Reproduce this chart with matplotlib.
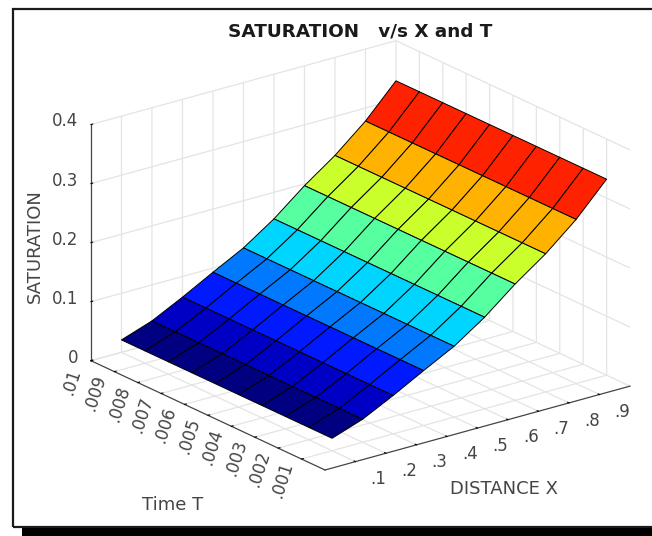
"""Saturation surface v/s distance X and time T, drawn with mplot3d."""
import matplotlib
matplotlib.use("Agg")
import matplotlib.pyplot as plt
from matplotlib.patches import Rectangle
from mpl_toolkits.mplot3d import proj3d
import numpy as np

# data
DISTANCE = [0.1, 0.2, 0.3, 0.4, 0.5, 0.6, 0.7, 0.8, 0.9, 1.0]
TIME = [0.001, 0.002, 0.003, 0.004, 0.005, 0.006, 0.007, 0.008, 0.009, 0.01]
SATURATION = [0.021, 0.039, 0.065, 0.093, 0.120, 0.155, 0.197, 0.234, 0.278, 0.332]

X_TICKS = [0.1, 0.2, 0.3, 0.4, 0.5, 0.6, 0.7, 0.8, 0.9]
X_LABELS = [".1", ".2", ".3", ".4", ".5", ".6", ".7", ".8", ".9"]
T_TICKS = [0.001, 0.002, 0.003, 0.004, 0.005, 0.006, 0.007, 0.008, 0.009, 0.01]
T_LABELS = [".001", ".002", ".003", ".004", ".005", ".006", ".007", ".008", ".009", ".01"]
Z_TICKS = [0, 0.1, 0.2, 0.3, 0.4]
Z_LABELS = ["0", "0.1", "0.2", "0.3", "0.4"]

W, H = 652, 536
INK = "#454545"
GRID = "#e4e4e4"
TICK_FS = 12
LABEL_FS = 13


def px(x, y):
    """Image pixel to figure fraction."""
    return x / W, 1 - y / H


def place_axes(ax, origin, x_end):
    """Move the square 3D axes so the floor corners land on the given pixels."""
    xs, ys, _ = proj3d.proj_transform([0, 1], [0, 0], [0, 0], ax.get_proj())
    scale = (x_end[0] - origin[0]) / (xs[1] - xs[0])
    box = ax.viewLim
    size = scale * box.width
    left = origin[0] - scale * (xs[0] - box.x0)
    bottom = (H - origin[1]) - scale * (ys[0] - box.y0)
    ax.set_position([left / W, bottom / H, size / W, size / H])


def tick_text(ax, x, y, z, s, **kw):
    """Text at a data point; Text3D would throw away the rotation."""
    xs, ys, _ = proj3d.proj_transform(x, y, z, ax.get_proj())
    ax.figure.text(xs, ys, s, transform=ax.transData, fontsize=TICK_FS, color=INK,
                   va="center", **kw)


fig = plt.figure(figsize=(W / 100, H / 100), dpi=100, facecolor="white")
ax = fig.add_axes([0.1, 0.1, 0.8, 0.8], projection="3d", proj_type="ortho",
                  facecolor="none")
ax.view_init(elev=21, azim=-127.5)
ax.set_box_aspect((1, 1, 0.658))

x, t = np.meshgrid(DISTANCE, TIME)
z = np.tile(SATURATION, (len(TIME), 1))
norm = plt.Normalize(min(SATURATION), 0.316)  # top band is never used for a face colour
ax.plot_surface(x, t, z, rstride=1, cstride=1, facecolors=plt.cm.jet(norm(z)),
                shade=False, edgecolor="black", linewidth=0.7, antialiased=True)

ax.set_xlim(0, 1)
ax.set_ylim(0, 0.01)
ax.set_zlim(0, 0.4)
ax.set_xticks(X_TICKS, [""] * len(X_TICKS))
ax.set_yticks(T_TICKS, [""] * len(T_TICKS))
ax.set_zticks(Z_TICKS, [""] * len(Z_TICKS))

for axis in (ax.xaxis, ax.yaxis, ax.zaxis):
    axis.set_pane_color((1, 1, 1, 1))
    axis.pane.set_edgecolor("none")
    axis.line.set_color(INK)
    axis.line.set_linewidth(0.9)
    axis._axinfo["grid"].update(color=GRID, linewidth=0.9)
    axis._axinfo["tick"].update(inward_factor=0.0, outward_factor=0.07, color=INK,
                                linewidth={True: 0.8, False: 0.5})

place_axes(ax, (325, 470), (630, 385))

# mplot3d cannot hang the labels the way the original does, so place them by hand
for v, label in zip(X_TICKS, X_LABELS):
    tick_text(ax, v - 0.0305, -0.00138, 0, label, ha="center")
for v, label in zip(T_TICKS, T_LABELS):
    tick_text(ax, -0.132, v - 0.00091, 0, label, ha="center", rotation=72)
for v, label in zip(Z_TICKS, Z_LABELS):
    tick_text(ax, -0.0133, 0.01038, v, label, ha="right")

# figure frame with the heavy shadow along the bottom
fig.add_artist(Rectangle(px(12.5, 527), 650 / W, 518 / H, transform=fig.transFigure,
                         fill=False, edgecolor="#1a1a1a", linewidth=1.6, clip_on=False))
fig.add_artist(Rectangle(px(22, 536), 630 / W, 8 / H, transform=fig.transFigure,
                         facecolor="black", edgecolor="none"))

fig.text(*px(360, 31), "SATURATION   v/s X and T", fontsize=13.2, fontweight="bold",
         color="#1a1a1a", ha="center", va="center")
fig.text(*px(172.5, 505), "Time T", fontsize=LABEL_FS, color=INK, ha="center", va="center")
fig.text(*px(504.5, 489), "DISTANCE X", fontsize=LABEL_FS, color=INK, ha="center", va="center")
fig.text(*px(35, 246), "SATURATION", fontsize=LABEL_FS, color=INK, rotation=90,
         ha="center", va="center")

fig.savefig("out.png", dpi=100, facecolor="white")
